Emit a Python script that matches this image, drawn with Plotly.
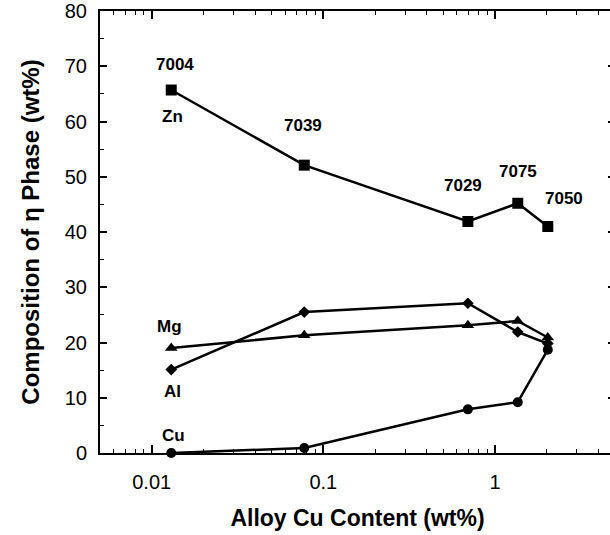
import numpy as np
import plotly.graph_objects as go

# Alloy copper content (wt%) and composition of the eta phase (wt%)
alloys = ["7004", "7039", "7029", "7075", "7050"]
cu_content = [0.013, 0.0774, 0.695, 1.357, 2.03]
zn = [65.7, 52.1, 41.9, 45.2, 41.0]
mg = [19.0, 21.3, 23.1, 23.9, 20.9]
al = [15.1, 25.5, 27.1, 21.9, 19.8]
cu = [0.0, 0.9, 7.9, 9.2, 18.7]

FONT = "Liberation Sans, Arial, sans-serif"

fig = go.Figure()

series = [
    ("Zn", zn, "square", 11),
    ("Al", al, "diamond", 9),
    ("Mg", mg, "triangle-up", 11),
    ("Cu", cu, "circle", 10),
]
for name, vals, sym, size in series:
    fig.add_trace(go.Scatter(
        x=cu_content, y=vals, mode="lines+markers", name=name,
        line=dict(color="black", width=2.5),
        marker=dict(symbol=sym, size=size, color="black"),
        cliponaxis=False, showlegend=False,
    ))

# alloy designations above the Zn points (pixel offsets)
alloy_shift = [(4, 26), (-1, 40), (-5, 36), (0, 32), (16, 28)]
for name, xv, yv, (dx, dy) in zip(alloys, cu_content, zn, alloy_shift):
    fig.add_annotation(x=np.log10(xv), y=yv, text=f"<b>{name}</b>",
                       showarrow=False, xshift=dx, yshift=dy,
                       font=dict(family=FONT, size=17, color="black"))

# element labels next to the first point of each series
elem_shift = {"Zn": (1, -26), "Mg": (-2, 22), "Al": (1, -22), "Cu": (2, 18)}
for name, vals, _, _ in series:
    dx, dy = elem_shift[name]
    fig.add_annotation(x=np.log10(cu_content[0]), y=vals[0], text=f"<b>{name}</b>",
                       showarrow=False, xshift=dx, yshift=dy,
                       font=dict(family=FONT, size=17, color="black"))

minor_x = [m * 10.0 ** e for e in (-3, -2, -1, 0) for m in range(2, 10)]
minor_x = [v for v in minor_x if 0.005 <= v <= 5]

fig.update_xaxes(
    type="log", range=[np.log10(0.005), np.log10(5)],
    tickvals=[0.01, 0.1, 1], ticktext=["0.01", "0.1", "1"],
    ticks="inside", ticklen=8, tickwidth=1.5, tickcolor="black",
    minor=dict(tickvals=minor_x, ticks="inside", ticklen=4, tickwidth=1.2, tickcolor="black"),
    showline=True, linecolor="black", linewidth=2, mirror="ticks",
    showgrid=False, zeroline=False, ticklabelstandoff=10,
    tickfont=dict(family=FONT, size=20, color="black"),
    title=dict(text="<b>Alloy Cu Content (wt%)</b>", standoff=18,
               font=dict(family=FONT, size=23, color="black")),
)
fig.update_yaxes(
    range=[0, 80], tickvals=list(range(0, 81, 10)),
    ticks="inside", ticklen=7, tickwidth=1.5, tickcolor="black",
    minor=dict(tickvals=list(range(5, 80, 10)), ticks="inside", ticklen=4, tickwidth=1.2, tickcolor="black"),
    showline=True, linecolor="black", linewidth=2, mirror="ticks",
    showgrid=False, zeroline=False, ticklabelstandoff=7,
    tickfont=dict(family=FONT, size=20, color="black"),
    title=dict(text="<b>Composition of η Phase (wt%)</b>", standoff=18,
               font=dict(family=FONT, size=24, color="black")),
)

fig.update_layout(
    width=617, height=535,
    margin=dict(l=100, r=0, t=11, b=82),
    paper_bgcolor="white", plot_bgcolor="white",
)

fig.write_html(
    "out.html",
    post_script="document.body.style.margin='0';document.body.style.overflow='hidden';"
                "document.documentElement.style.overflow='hidden';",
)
